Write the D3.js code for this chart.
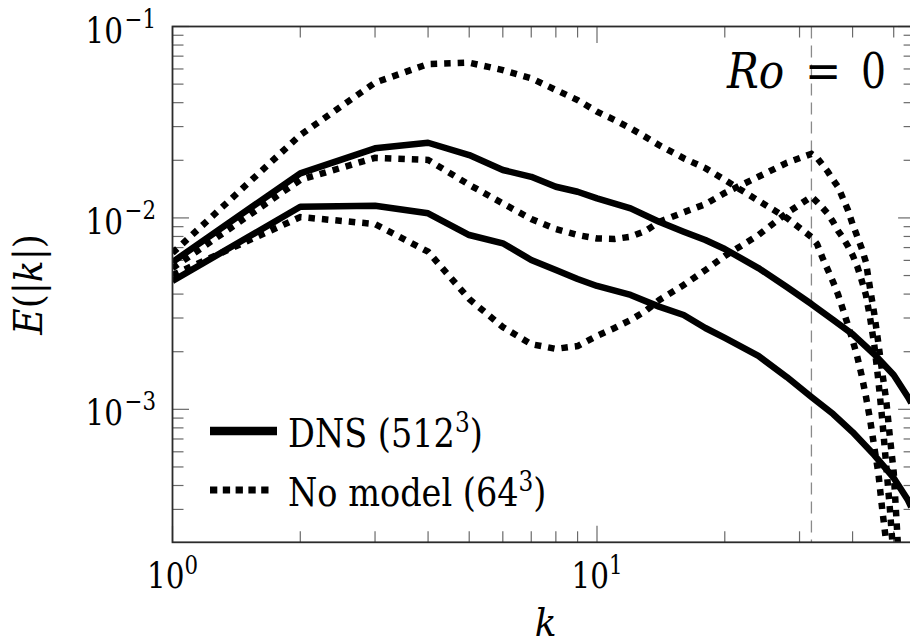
<!DOCTYPE html>
<html lang="en">
<head>
<meta charset="utf-8">
<script src="https://d3js.org/d3.v7.min.js"></script>
<style>
body { margin: 0; background: #fff; }
svg { display: block; background: #fff; }
text { fill: #000; }
.tick { stroke: #6a6a6a; stroke-width: 1.2; }
.frame { fill: none; stroke: #2b2b2b; stroke-width: 1.8; }
.cutoff { stroke: #8a8a8a; stroke-width: 1.3; stroke-dasharray: 12 7; }
.dns { fill: none; stroke: #000; stroke-width: 6.5; stroke-linejoin: round; }
.nomodel { fill: none; stroke: #000; stroke-width: 6.5; stroke-dasharray: 6.5 7; }
</style>
</head>
<body>
<svg id="chart" width="910" height="644"></svg>
<script>
// wavenumbers + spectra
const kDns = [1, 2, 3, 4, 5, 6, 7, 8, 9, 10, 12, 14, 16, 18, 20, 24, 28, 32, 36, 40, 45, 50, 54, 55];
const dnsUpper = [0.00588, 0.0171, 0.0231, 0.0247, 0.0213, 0.0178, 0.0164, 0.01455, 0.0137, 0.01266,
  0.01122, 0.00955, 0.00847, 0.00766, 0.00688, 0.00547, 0.00436, 0.00355, 0.00293, 0.00247,
  0.00194, 0.00151, 0.00116, 0.00108];
const dnsLower = [0.00468, 0.01144, 0.01158, 0.01057, 0.00814, 0.00737, 0.00603, 0.00534, 0.0048, 0.00441,
  0.00396, 0.00344, 0.00311, 0.00266, 0.00236, 0.0019, 0.001475, 0.00116, 0.000945, 0.000761,
  0.000577, 0.000438, 0.000336, 0.000309];

const kNoModel = [1, 2, 3, 4, 5, 6, 7, 8, 9, 10, 11, 12, 13, 14, 16, 18, 20, 24, 28, 32,
  33, 34, 35, 36, 37, 38, 39, 40, 41, 42, 43, 44, 45, 46, 47, 48, 49, 50, 51, 52];
const noModelTop = [0.00656, 0.0271, 0.0509, 0.0637, 0.0647, 0.0592, 0.0536, 0.0466, 0.0413, 0.0359,
  0.0325, 0.0294, 0.0265, 0.024, 0.0205, 0.0182, 0.0158, 0.0123, 0.01, 0.00795,
  0.0073, 0.00617, 0.00534, 0.00462, 0.00396, 0.0033, 0.00276, 0.0023, 0.0019, 0.00151,
  0.00117, 0.000879, 0.000635, 0.000465, 0.000298, 0.000203, 0.000101, 0.00006, 0.00004, 0.00003];
const noModelMid = [0.00547, 0.0158, 0.0206, 0.0201, 0.0149, 0.0119, 0.00987, 0.00875, 0.00814, 0.00781,
  0.00776, 0.00798, 0.00854, 0.00952, 0.0107, 0.0118, 0.0135, 0.0164, 0.0194, 0.0216,
  0.0206, 0.0189, 0.0174, 0.0158, 0.0145, 0.0126, 0.011, 0.00929, 0.00804, 0.00696,
  0.00588, 0.00425, 0.00315, 0.00222, 0.00155, 0.00112, 0.000708, 0.00047, 0.00022, 0.0001];
const noModelLow = [0.00503, 0.0101, 0.00929, 0.00666, 0.00377, 0.00269, 0.00219, 0.00207, 0.00214, 0.00242,
  0.00266, 0.00293, 0.00326, 0.00372, 0.00446, 0.00534, 0.00632, 0.00814, 0.0106, 0.0129,
  0.0121, 0.0113, 0.0105, 0.00952, 0.00854, 0.00785, 0.00713, 0.0064, 0.00561, 0.00474,
  0.00396, 0.003, 0.00217, 0.00142, 0.000879, 0.000512, 0.000298, 0.000163, 0.00008, 0.00004];

const kCutoff = 32;
const xTickExp = [0, 1];
const yTickExp = [-3, -2, -1];
const legendLabels = [
  { name: 'DNS (512', sup: '3', cls: 'dns' },
  { name: 'No model (64', sup: '3', cls: 'nomodel' }
];

const FONT = "'DejaVu Serif', serif";

const svg = d3.select('#chart');

const plotLeft = 172.5, plotRight = 914.6, plotTop = 26.5, plotBottom = 542.3;

const x = d3.scaleLog().domain([1, 56]).range([plotLeft, plotRight]);
const y = d3.scaleLog().domain([2.02e-4, 0.1]).range([plotBottom, plotTop]);

const isMajor = (v) => Math.abs(Math.log10(v) - Math.round(Math.log10(v))) < 1e-9;

// text helper: DejaVu is wide, squeeze it horizontally a bit
function label(px, py, size, sx, anchor, extra) {
  return svg.append('text')
    .attr('transform', `translate(${px},${py}) ${extra || ''} scale(${sx},1)`)
    .attr('text-anchor', anchor)
    .attr('font-family', FONT)
    .attr('font-size', size);
}

// clip for the curves
svg.append('clipPath').attr('id', 'plotclip')
  .append('rect')
  .attr('x', plotLeft).attr('y', plotTop)
  .attr('width', plotRight - plotLeft).attr('height', plotBottom - plotTop);

// ticks on all four sides, pointing inward
const ticks = svg.append('g');
const majorLen = 16.5, minorLen = 11;

x.ticks().forEach((v) => {
  const len = isMajor(v) ? majorLen : minorLen;
  const px = x(v);
  ticks.append('line').attr('class', 'tick')
    .attr('x1', px).attr('x2', px).attr('y1', plotBottom).attr('y2', plotBottom - len);
  ticks.append('line').attr('class', 'tick')
    .attr('x1', px).attr('x2', px).attr('y1', plotTop).attr('y2', plotTop + len);
});

y.ticks().forEach((v) => {
  const len = isMajor(v) ? majorLen : minorLen;
  const py = y(v);
  ticks.append('line').attr('class', 'tick')
    .attr('x1', plotLeft).attr('x2', plotLeft + len).attr('y1', py).attr('y2', py);
  ticks.append('line').attr('class', 'tick')
    .attr('x1', plotRight).attr('x2', plotRight - len).attr('y1', py).attr('y2', py);
});

// cutoff wavenumber of the 64^3 grid
svg.append('line').attr('class', 'cutoff')
  .attr('x1', x(kCutoff)).attr('x2', x(kCutoff))
  .attr('y1', plotTop).attr('y2', plotBottom);

// curves
const line = d3.line().x((d) => x(d.k)).y((d) => y(d.e));
const curves = svg.append('g').attr('clip-path', 'url(#plotclip)');

[noModelTop, noModelMid, noModelLow].forEach((s) => {
  curves.append('path').attr('class', 'nomodel')
    .attr('d', line(kNoModel.map((k, i) => ({ k: k, e: s[i] }))));
});
[dnsUpper, dnsLower].forEach((s) => {
  curves.append('path').attr('class', 'dns')
    .attr('d', line(kDns.map((k, i) => ({ k: k, e: s[i] }))));
});

// frame
svg.append('rect').attr('class', 'frame')
  .attr('x', plotLeft).attr('y', plotTop)
  .attr('width', plotRight - plotLeft).attr('height', plotBottom - plotTop);

// tick labels
xTickExp.forEach((p) => {
  const t = label(x(Math.pow(10, p)), 588, 36, 0.82, 'middle');
  t.append('tspan').text('10');
  t.append('tspan').attr('dy', -14).attr('font-size', 26).text(p);
});

yTickExp.forEach((p) => {
  const t = label(156, y(Math.pow(10, p)) + 16, 36, 0.82, 'end');
  t.append('tspan').text('10');
  t.append('tspan').attr('dy', -15).attr('dx', 2).attr('font-size', 26).text('\u2212' + Math.abs(p));
});

// axis labels
label((plotLeft + plotRight) / 2 + 2, 636, 40, 0.9, 'middle')
  .attr('font-style', 'italic')
  .text('k');

const yl = label(42, (plotTop + plotBottom) / 2, 40, 0.9, 'middle', 'rotate(-90)');
yl.append('tspan').attr('font-style', 'italic').text('E');
yl.append('tspan').text('(|');
yl.append('tspan').attr('font-style', 'italic').text('k');
yl.append('tspan').text('|)');

// Ro annotation
label(727, 88, 48, 0.88, 'start').attr('font-style', 'italic').text('Ro');
label(823, 88, 48, 0.9, 'middle').text('=');
label(861, 88, 48, 0.82, 'start').text('0');

// legend
const legendY = [431, 490];
legendLabels.forEach((d, i) => {
  const g = svg.append('g');
  const ln = g.append('line')
    .attr('x1', 210).attr('x2', d.cls === 'dns' ? 277 : 272)
    .attr('y1', legendY[i]).attr('y2', legendY[i])
    .style('stroke', '#000');
  if (d.cls === 'dns') {
    ln.style('stroke-width', 8.5);
  } else {
    ln.style('stroke-width', 7).style('stroke-dasharray', '7.3 5.5');
  }
  const t = label(288, legendY[i] + 16, 39, 0.86, 'start');
  t.append('tspan').text(d.name);
  t.append('tspan').attr('dy', -15).attr('font-size', 27).text(d.sup);
  t.append('tspan').attr('dy', 15).text(')');
});
</script>
</body>
</html>
